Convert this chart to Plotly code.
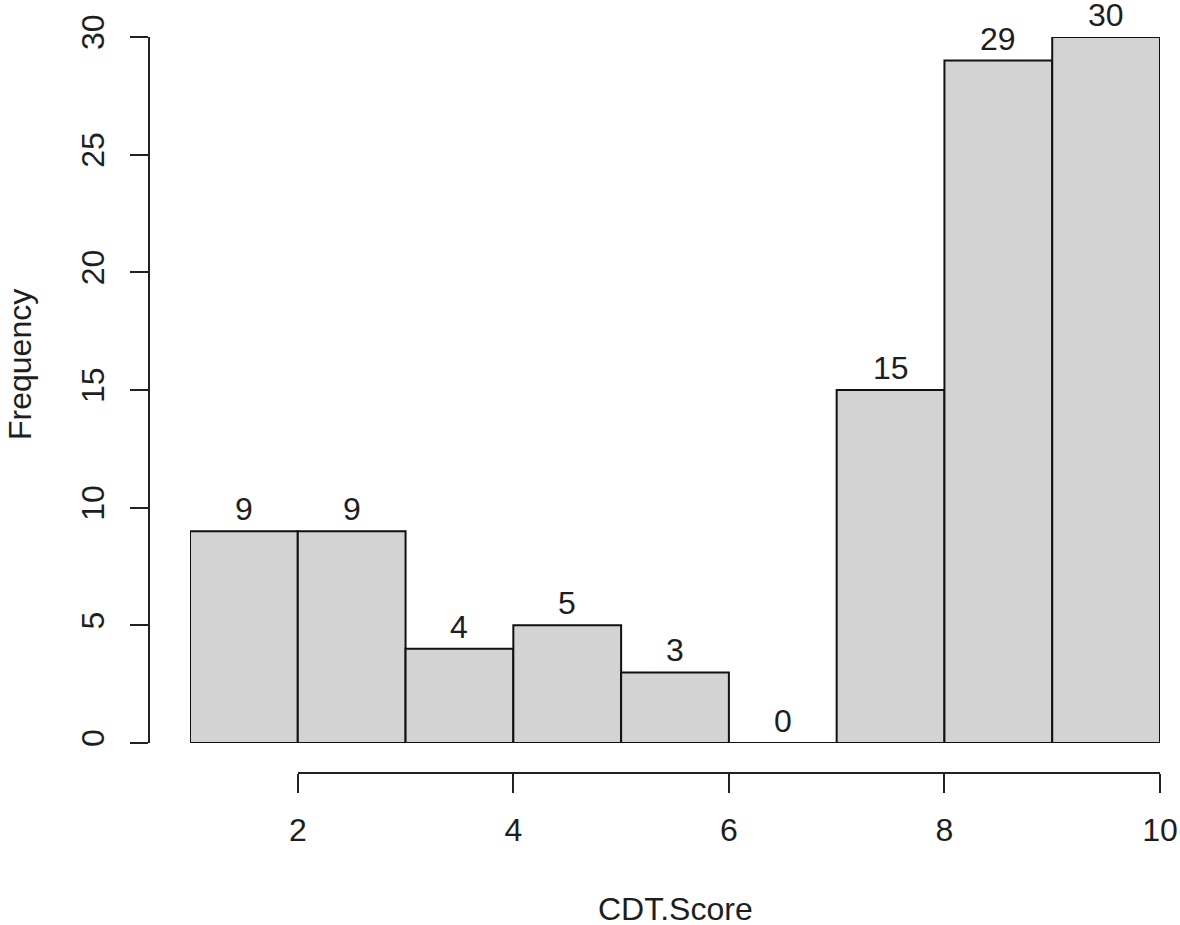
import plotly.graph_objects as go

# ---- data ----
bin_edges = [1, 2, 3, 4, 5, 6, 7, 8, 9, 10]
counts = [9, 9, 4, 5, 3, 0, 15, 29, 30]
x_ticks = [2, 4, 6, 8, 10]
y_ticks = [0, 5, 10, 15, 20, 25, 30]
x_title = "CDT.Score"
y_title = "Frequency"

mids = [(a + b) / 2 for a, b in zip(bin_edges[:-1], bin_edges[1:])]
widths = [b - a for a, b in zip(bin_edges[:-1], bin_edges[1:])]

# ---- layout helpers (pixel -> paper) ----
W, H = 1180, 925
def px(X):
    return X / W
def py(Y):
    return 1 - Y / H

FONT = "Liberation Sans, Arial, sans-serif"
FS = 32
TXT = "#1e1e1e"
LINE = "#222222"

fig = go.Figure()
fig.add_trace(go.Bar(
    x=mids, y=counts, width=widths,
    marker=dict(color="#d3d3d3", line=dict(color="#111111", width=2)),
    hoverinfo="skip", showlegend=False,
))
# invisible trace to carry the detached R-style x axis
fig.add_trace(go.Scatter(
    x=x_ticks, y=[0] * len(x_ticks), xaxis="x2", yaxis="y",
    mode="markers", marker=dict(opacity=0), hoverinfo="skip", showlegend=False,
))

annotations = []
for m, c in zip(mids, counts):
    annotations.append(dict(
        x=m, y=c, xref="x", yref="y", text=str(c), showarrow=False,
        yanchor="middle", yshift=22, font=dict(family=FONT, size=FS, color=TXT),
    ))
annotations.append(dict(
    x=px(675), y=py(909), xref="paper", yref="paper", text=x_title,
    showarrow=False, xanchor="center", yanchor="middle",
    font=dict(family=FONT, size=FS, color=TXT),
))
annotations.append(dict(
    x=px(20), y=py(365), xref="paper", yref="paper", text=y_title,
    showarrow=False, xanchor="center", yanchor="middle", textangle=-90,
    font=dict(family=FONT, size=FS, color=TXT),
))

fig.update_layout(
    width=W, height=H,
    margin=dict(l=0, r=0, t=0, b=0, autoexpand=False),
    paper_bgcolor="white", plot_bgcolor="rgba(0,0,0,0)",
    bargap=0,
    font=dict(family=FONT, size=FS, color=TXT),
    xaxis=dict(domain=[px(190), px(1160)], range=[bin_edges[0], bin_edges[-1]],
               visible=False, fixedrange=True, automargin=False),
    xaxis2=dict(domain=[px(297.8), px(1160)], range=[x_ticks[0], x_ticks[-1]],
                anchor="free", position=py(773), automargin=False,
                showline=True, linecolor=LINE, linewidth=2,
                ticks="outside", ticklen=19, tickwidth=2, tickcolor=LINE,
                tickvals=x_ticks, ticktext=[str(t) for t in x_ticks],
                ticklabelstandoff=10,
                showgrid=False, zeroline=False,
                tickfont=dict(family=FONT, size=FS, color=TXT)),
    yaxis=dict(domain=[py(743), py(37)], range=[y_ticks[0], y_ticks[-1]],
               anchor="free", position=px(149), automargin=False,
               showline=True, linecolor=LINE, linewidth=2,
               ticks="outside", ticklen=18, tickwidth=2, tickcolor=LINE,
               tickvals=y_ticks, ticktext=[str(t) for t in y_ticks],
               ticklabelstandoff=13,
               tickangle=-90, showgrid=False, zeroline=False,
               tickfont=dict(family=FONT, size=FS, color=TXT)),
    annotations=annotations,
    shapes=[dict(type="line", xref="x", yref="y",
                 x0=bin_edges[0], x1=bin_edges[-1], y0=0, y1=0,
                 line=dict(color="#111111", width=2), layer="above")],
)

fig.write_html(
    "out.html",
    config={"displayModeBar": False, "staticPlot": True},
    post_script="document.body.style.margin='0';document.body.style.overflow='hidden';",
)
